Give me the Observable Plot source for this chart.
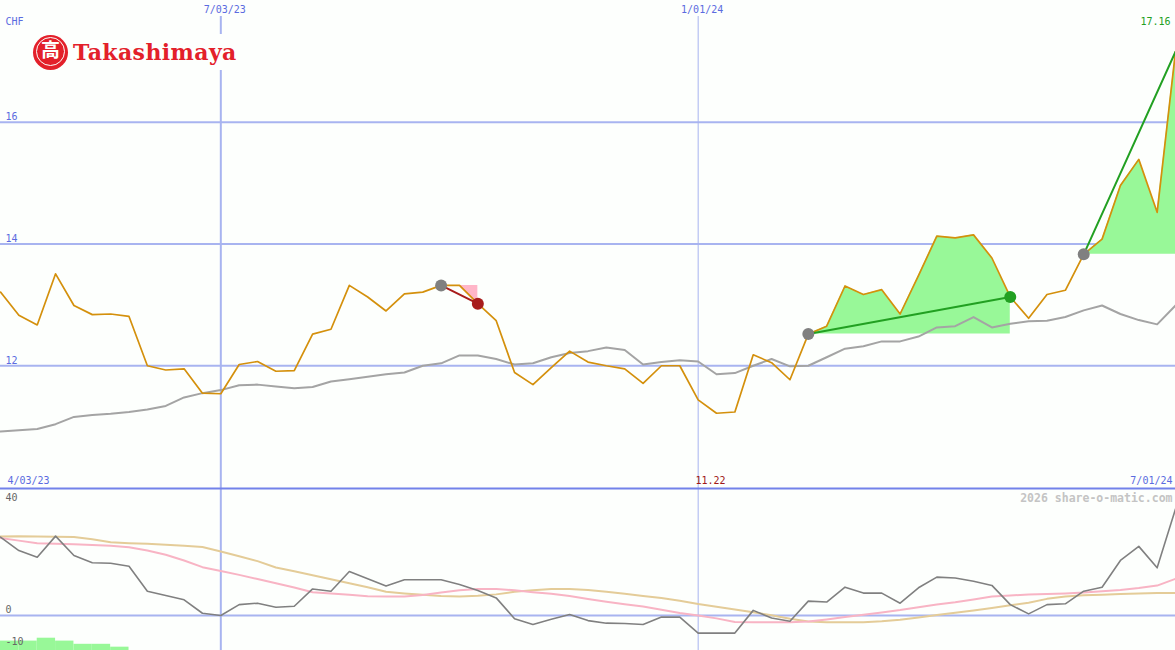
<!DOCTYPE html>
<html><head><meta charset="utf-8">
<script src="https://cdn.jsdelivr.net/npm/d3@7"></script>
<script src="https://cdn.jsdelivr.net/npm/@observablehq/plot@0.6"></script>
<style>
body{margin:0;background:#fdfffd;}
#wrap{position:relative;width:1175px;height:650px;overflow:hidden;background:#fdfffd;}
#top,#bot{position:absolute;left:0;}
#top{top:0}
#bot{top:487px}
#logo{position:absolute;left:33px;top:34px;width:205px;height:36px;background:#fdfffd;display:flex;align-items:center;}
#emb{position:relative;width:35px;height:35px;border-radius:50%;background:#e3202a;flex:none;}
#emb .ring{position:absolute;left:2.5px;top:2.5px;width:27px;height:27px;border:1.5px solid #fdfffd;border-radius:50%;}
#emb .ch{position:absolute;left:0;top:0;width:35px;height:35px;line-height:35px;text-align:center;color:#fdfffd;font:bold 19px "Noto Sans CJK JP";}
#brand{margin-left:5px;color:#e3202a;font:bold 22px "DejaVu Serif";letter-spacing:0.4px;}
</style></head>
<body>
<div id="wrap">
  <div id="top"></div>
  <div id="bot"></div>
  <div id="logo"><div id="emb"><div class="ring"></div><div class="ch">高</div></div><span id="brand">Takashimaya</span></div>
</div>
<script>
// ---- data (weekly closes, CHF) ----
const startDate = "2023-04-10";
const price = [13.21,12.83,12.67,13.51,12.99,12.84,12.85,12.81,12.00,11.93,11.95,11.55,11.54,12.02,12.07,11.91,11.92,12.52,12.60,13.32,13.13,12.90,13.18,13.21,13.32,13.32,13.02,12.74,11.89,11.69,11.97,12.24,12.06,12.00,11.95,11.71,12.00,12.00,11.44,11.22,11.24,12.18,12.05,11.77,12.52,12.65,13.31,13.17,13.25,12.85,13.48,14.13,14.10,14.15,13.77,13.13,12.78,13.17,13.24,13.83,14.08,14.96,15.39,14.52,17.16];
const avg = [10.92,10.94,10.96,11.04,11.16,11.19,11.21,11.24,11.28,11.34,11.48,11.55,11.60,11.68,11.69,11.66,11.63,11.65,11.74,11.78,11.82,11.86,11.89,12.00,12.04,12.17,12.17,12.11,12.02,12.04,12.14,12.21,12.24,12.30,12.26,12.02,12.06,12.09,12.07,11.86,11.88,12.00,12.11,11.99,12.00,12.14,12.28,12.32,12.40,12.40,12.48,12.63,12.65,12.80,12.63,12.69,12.73,12.74,12.80,12.91,12.99,12.85,12.75,12.68,12.99];
const momentum = [24.5,20.3,18.2,24.8,18.75,16.5,16.35,15.4,7.6,6.25,4.9,0.7,0.0,3.4,3.85,2.6,2.9,8.3,7.6,13.75,11.45,9.2,11.15,11.15,11.15,9.7,7.8,5.5,-1.0,-2.8,-1.2,0.3,-1.6,-2.4,-2.5,-2.8,-0.5,-0.5,-5.5,-5.5,-5.5,1.6,-0.8,-1.8,4.5,4.2,8.85,7.0,7.0,3.85,8.65,12.0,11.7,10.7,9.4,3.4,0.5,3.4,3.65,7.6,8.85,17.2,21.6,14.9,33.3];
const slowAvg = [24.7,24.8,24.7,24.6,24.5,23.8,22.9,22.6,22.4,22.1,21.8,21.4,20.0,18.5,17.0,15.0,13.8,12.6,11.3,10.1,8.8,7.4,6.9,6.5,6.1,5.95,6.15,6.6,7.4,7.9,8.3,8.3,8.0,7.4,6.8,6.1,5.45,4.6,3.6,2.75,1.85,1.0,0.1,-1.0,-1.9,-2.1,-2.1,-2.1,-1.8,-1.35,-0.6,0.15,0.85,1.55,2.35,3.2,4.0,5.2,5.9,6.35,6.5,6.7,6.9,7.0,7.0];
const fastAvg = [24.2,23.4,22.6,22.45,22.3,22.05,21.8,21.3,20.3,19.0,17.2,15.1,13.9,12.7,11.4,10.1,8.75,7.25,6.9,6.5,6.05,5.9,5.9,6.4,7.2,7.9,8.3,8.3,7.9,7.3,6.8,6.1,5.15,4.3,3.55,2.8,1.8,0.8,0.0,-0.9,-2.0,-2.1,-2.1,-2.1,-1.9,-1.25,-0.5,0.2,0.95,1.7,2.6,3.45,4.15,5.0,5.95,6.25,6.55,6.7,6.9,7.15,7.6,8.0,8.6,9.35,11.45];
const volBars = [-8.0,-8.0,-7.1,-8.0,-9.0,-9.0,-9.9];
const priceTicks = [12, 14, 16];
const indTicks = [0, -10];
const xTickDates = ["2023-07-03", "2024-01-01"];
const xTickLabels = ["7/03/23", "1/01/24"];
const firstLabel = "4/03/23", lastLabel = "7/01/24";
const minLabel = "11.22", maxLabel = "17.16";
const trendFrom = [24, 44, 59];
const trendTo = [26, 55, 64];
const trendKind = ["down", "up", "up"];

// ---- build ----
const d0 = new Date(startDate);
const dates = price.map((_, i) => d3.utcWeek.offset(d0, i));
const rows = price.map((p, i) => ({date: dates[i], price: p, avg: avg[i], mom: momentum[i], slow: slowAvg[i], fast: fastAvg[i]}));
const tickDates = xTickDates.map(s => new Date(s));
const xDom = [dates[0], dates[dates.length - 1]];
const minIdx = price.indexOf(d3.min(price));

const GRID = "#a8b4f0", LBL = "#5b6be0", ORANGE = "#d4900c", GREEN = "#22a022", DRED = "#a81c1c";
const FONT = "DejaVu Sans Mono";

const trendMarks = [];
trendFrom.forEach((a, k) => {
  const b = trendTo[k];
  const seg = rows.slice(a, b + 1);
  const base = price[a];
  const up = trendKind[k] === "up";
  trendMarks.push(Plot.areaY(seg, {x: "date", y1: () => base, y2: "price", fill: up ? "#98f898" : "#ffb6c8", curve: "linear"}));
});
const lineMarks = [];
trendFrom.forEach((a, k) => {
  const b = trendTo[k];
  const up = trendKind[k] === "up";
  lineMarks.push(Plot.line([rows[a], rows[b]], {x: "date", y: "price", stroke: up ? GREEN : DRED, strokeWidth: 2}));
});
const dotMarks = [];
trendFrom.forEach((a, k) => {
  dotMarks.push(Plot.dot([rows[a]], {x: "date", y: "price", r: 6, fill: "#808080"}));
  const b = trendTo[k];
  if (b !== rows.length - 1) dotMarks.push(Plot.dot([rows[b]], {x: "date", y: "price", r: 6, fill: trendKind[k] === "up" ? GREEN : DRED}));
});

const topPlot = Plot.plot({
  width: 1175, height: 487, margin: 0,
  x: {type: "utc", domain: xDom, axis: null},
  y: {domain: [10, 18], axis: null},
  style: {background: "transparent", fontFamily: FONT, fontSize: "10px", overflow: "visible"},
  marks: [
    Plot.ruleY(priceTicks, {stroke: GRID, strokeWidth: 2}),
    Plot.ruleX([tickDates[0]], {stroke: GRID, strokeWidth: 2, insetTop: 16}),
    Plot.ruleX([tickDates[1]], {stroke: GRID, strokeWidth: 1, insetTop: 16}),
    ...trendMarks,
    Plot.line(rows, {x: "date", y: "avg", stroke: "#a4a4a4", strokeWidth: 2}),
    Plot.line(rows, {x: "date", y: "price", stroke: ORANGE, strokeWidth: 1.7}),
    ...lineMarks,
    ...dotMarks,
    Plot.text(["CHF"], {frameAnchor: "top-left", dx: 5, dy: 24, lineAnchor: "bottom", textAnchor: "start", fill: LBL}),
    Plot.text(priceTicks, {y: d => d, frameAnchor: "left", text: d => String(d), dx: 5, dy: -2, lineAnchor: "bottom", textAnchor: "start", fill: LBL}),
    Plot.text(tickDates, {x: d => d, frameAnchor: "top", text: (d, i) => xTickLabels[i], dx: 4, dy: 12, lineAnchor: "bottom", fill: LBL}),
    Plot.text([firstLabel], {frameAnchor: "bottom-left", dx: 7, dy: -4, lineAnchor: "bottom", textAnchor: "start", fill: LBL}),
    Plot.text([lastLabel], {frameAnchor: "bottom-right", dx: -3, dy: -4, lineAnchor: "bottom", textAnchor: "end", fill: LBL}),
    Plot.text([minLabel], {x: () => dates[minIdx], frameAnchor: "bottom", dx: -6, dy: -4, lineAnchor: "bottom", fill: "#a01818"}),
    Plot.text([maxLabel], {frameAnchor: "top-right", dx: -5, dy: 24, lineAnchor: "bottom", textAnchor: "end", fill: GREEN})
  ]
});
document.getElementById("top").appendChild(topPlot);

const yBot = -10.94;
const barRows = volBars.map((v, i) => ({x1: dates[i], x2: dates[i + 1], v}));
const botPlot = Plot.plot({
  width: 1175, height: 163, margin: 0,
  x: {type: "utc", domain: xDom, axis: null},
  y: {domain: [yBot, 40], axis: null},
  style: {background: "transparent", fontFamily: FONT, fontSize: "10px", overflow: "visible"},
  marks: [
    Plot.ruleY([0], {stroke: GRID, strokeWidth: 2}),
    Plot.ruleX([tickDates[0]], {stroke: GRID, strokeWidth: 2}),
    Plot.ruleX([tickDates[1]], {stroke: GRID, strokeWidth: 1}),
    Plot.rect(barRows, {x1: "x1", x2: "x2", y1: () => yBot, y2: "v", fill: "#98f898"}),
    Plot.line(rows, {x: "date", y: "slow", stroke: "#e4cc98", strokeWidth: 2}),
    Plot.line(rows, {x: "date", y: "fast", stroke: "#f8b4c4", strokeWidth: 2}),
    Plot.line(rows, {x: "date", y: "mom", stroke: "#808080", strokeWidth: 1.6}),
    Plot.ruleY([40], {stroke: "#7282ea", strokeWidth: 2, dy: 1}),
    Plot.text([40], {y: d => d, frameAnchor: "left", text: d => String(d), dx: 5, dy: 13, lineAnchor: "bottom", textAnchor: "start", fill: "#666"}),
    Plot.text(indTicks, {y: d => d, frameAnchor: "left", text: d => String(d), dx: 5, dy: -2, lineAnchor: "bottom", textAnchor: "start", fill: "#666"}),
    Plot.text(["2026 share-o-matic.com"], {frameAnchor: "top-right", dx: -3, dy: 14, lineAnchor: "bottom", textAnchor: "end", fill: "#c4c4c4", fontWeight: "bold", fontSize: 11.5})
  ]
});
document.getElementById("bot").appendChild(botPlot);
</script>
</body></html>
